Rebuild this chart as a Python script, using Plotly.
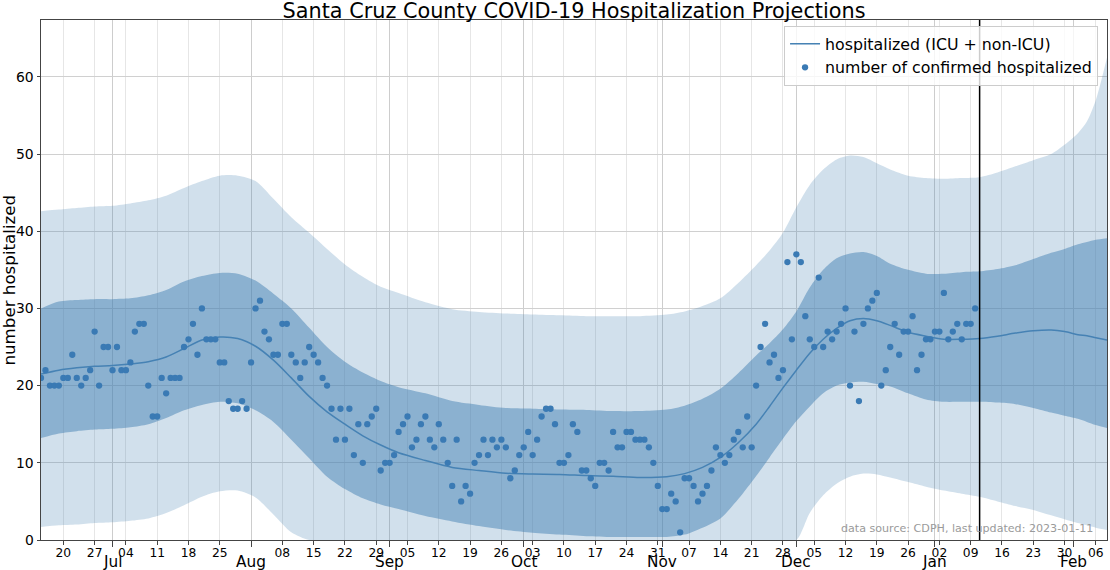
import pandas as pd
import plotly.graph_objects as go

# ---------------- data ----------------
obs_start = "2022-06-15"
confirmed = [
    21, 22, 20, 20, 20, 21, 21, 24, 21, 20,
    21, 22, 27, 20, 25, 25, 22, 25, 22, 22,
    23, 27, 28, 28, 20, 16, 16, 21, 19, 21,
    21, 21, 25, 26, 28, 24, 30, 26, 26, 26,
    23, 23, 18, 17, 17, 18, 17, 23, 30, 31,
    27, 26, 24, 24, 28, 28, 24, 23, 21, 23,
    25, 24, 23, 21, 20, 17, 13, 17, 13, 17,
    11, 15, 10, 15, 16, 17, 9, 10, 10, 11,
    14, 15, 16, 12, 13, 15, 16, 13, 12, 15,
    13, 10, 7, 13, 5, 7, 6, 10, 11, 13,
    11, 13, 12, 13, 12, 8, 9, 11, 12, 14,
    11, 13, 16, 17, 17, 15, 10, 10, 11, 15,
    14, 9, 9, 8, 7, 10, 10, 9, 14, 12,
    12, 14, 14, 13, 13, 13, 12, 10, 7, 4,
    4, 6, 5, 1, 8, 8, 7, 5, 6, 7,
    9, 12, 11, 10, 11, 13, 14, 12, 16, 12,
    20, 25, 28, 23, 24, 21, 22, 36, 26, 37,
    36, 29, 26, 25, 34, 25, 27, 26, 27, 28,
    30, 20, 27, 18, 28, 30, 31, 32, 20, 22,
    25, 28, 24, 27, 27, 29, 22, 24, 26, 26,
    27, 27, 32, 26, 27, 28, 26, 28, 28, 30,
]

proj_start = "2022-06-15"
proj_day = [0, 4, 8, 12, 16, 20, 24, 28, 32, 36,
            40, 44, 48, 52, 56, 60, 64, 68, 72, 76,
            80, 86, 92, 98, 104, 110, 116, 122, 128, 134,
            140, 144, 148, 152, 156, 160, 163, 166, 169, 172,
            175, 178, 181, 184, 187, 190, 194, 198, 202, 206,
            210, 214, 218, 222, 226, 229, 232, 234, 236, 238.5]

median = [21.5, 22.0, 22.3, 22.5, 22.6, 22.8, 23.1, 23.7, 24.8, 25.9,
          26.3, 26.1, 25.1, 23.3, 21.0, 18.6, 16.6, 15.0, 13.5, 12.3,
          11.3, 10.3, 9.4, 9.0, 8.65, 8.55, 8.5, 8.35, 8.25, 8.1,
          8.2, 8.6, 9.4, 10.7, 12.6, 15.0, 17.3, 19.7, 22.0, 24.2,
          26.0, 27.4, 28.4, 28.7, 28.4, 27.8, 26.9, 26.4, 26.0, 26.0,
          26.1, 26.4, 26.8, 27.1, 27.2, 27.0, 26.6, 26.45, 26.2, 25.9]

inner_upper = [30.0, 30.9, 31.1, 31.2, 31.2, 31.3, 31.7, 32.4, 33.5, 34.2,
               34.6, 34.5, 33.6, 31.9, 30.0, 27.5, 25.0, 23.1, 21.7, 20.6,
               19.8, 19.0, 18.0, 17.5, 17.1, 17.0, 16.9, 16.85, 16.7, 16.7,
               16.9, 17.4, 18.3, 19.6, 21.6, 23.9, 25.5, 27.3, 29.6, 32.7,
               35.0, 36.5, 37.1, 37.3, 36.8, 35.8, 35.0, 34.5, 34.5, 34.7,
               34.8, 35.1, 35.6, 36.4, 37.2, 37.7, 38.3, 38.6, 38.9, 39.1]

inner_lower = [13.2, 13.8, 14.1, 14.3, 14.4, 14.6, 15.0, 15.8, 16.8, 17.5,
               17.9, 17.7, 16.8, 15.3, 13.0, 10.6, 8.2, 6.6, 5.4, 4.6,
               4.0, 3.1, 2.4, 1.8, 1.3, 0.95, 0.7, 0.5, 0.4, 0.4,
               0.4, 0.7, 1.6, 2.8, 5.3, 8.3, 10.7, 13.1, 15.4, 17.3,
               19.0, 20.0, 20.4, 20.5, 20.2, 19.9, 19.0, 18.2, 17.9, 17.9,
               17.9, 17.8, 17.6, 17.1, 16.5, 16.1, 15.7, 15.3, 14.9, 14.5]

outer_upper = [42.6, 42.8, 43.0, 43.2, 43.3, 43.6, 44.0, 44.6, 45.6, 46.5,
               47.2, 47.2, 46.5, 44.2, 41.8, 39.8, 37.7, 35.7, 34.1, 32.8,
               32.0, 30.8, 29.9, 29.55, 29.35, 29.2, 29.1, 29.0, 29.0, 29.0,
               29.2, 29.6, 30.3, 31.3, 33.3, 35.6, 37.5, 39.8, 43.1, 46.0,
               48.0, 49.3, 49.8, 49.6, 48.8, 48.0, 47.2, 46.9, 46.8, 46.9,
               47.0, 47.6, 48.4, 49.2, 50.0, 51.2, 52.7, 54.2, 57.0, 62.5]

outer_lower = [1.7, 1.9, 2.0, 2.2, 2.3, 2.5, 2.8, 3.5, 4.5, 5.6,
               6.3, 6.4, 5.5, 3.3, 1.0, 0, 0, 0, 0, 0,
               0, 0, 0, 0, 0, 0, 0, 0, 0, 0,
               0, 0, 0, 0, 0, 0, 0, 0, 0, 3.5,
               5.8, 7.3, 8.2, 8.6, 8.5, 8.1, 7.5, 6.9, 6.4, 6.0,
               5.6, 5.0, 4.4, 3.9, 3.2, 2.7, 2.2, 1.9, 1.6, 1.3]

last_updated = "2023-01-11"
x_start, x_end = "2022-06-15", "2023-02-08 12:00"
month_starts = ["2022-07-01", "2022-08-01", "2022-09-01", "2022-10-01",
                "2022-11-01", "2022-12-01", "2023-01-01", "2023-02-01"]
month_labels = ["Jul", "Aug", "Sep", "Oct", "Nov", "Dec", "Jan", "Feb"]
week_first, week_last = "2022-06-20", "2023-02-06"

y_ticks = [0, 10, 20, 30, 40, 50, 60]
y_top = 67.36

# ---------------- derived ----------------
obs_dates = pd.date_range(obs_start, periods=len(confirmed), freq="D")
proj_dates = [pd.Timestamp(proj_start) + pd.Timedelta(days=d) for d in proj_day]
mondays = pd.date_range(week_first, week_last, freq="7D")
week_vals = [d.strftime("%Y-%m-%d") for d in mondays if d.day != 1]
week_text = [d[-2:] for d in week_vals]

BLUE = "rgb(70,130,180)"
DOT = "rgb(58,122,180)"
FONT = "DejaVu Sans"

fig = go.Figure()
spl = dict(shape="spline", smoothing=0.8, width=0)
fig.add_trace(go.Scatter(x=proj_dates, y=outer_lower, mode="lines", line=spl,
                         showlegend=False, hoverinfo="skip"))
fig.add_trace(go.Scatter(x=proj_dates, y=outer_upper, mode="lines", line=spl,
                         fill="tonexty", fillcolor="rgba(70,130,180,0.25)",
                         showlegend=False, hoverinfo="skip"))
fig.add_trace(go.Scatter(x=proj_dates, y=inner_lower, mode="lines", line=spl,
                         showlegend=False, hoverinfo="skip"))
fig.add_trace(go.Scatter(x=proj_dates, y=inner_upper, mode="lines", line=spl,
                         fill="tonexty", fillcolor="rgba(70,130,180,0.5)",
                         showlegend=False, hoverinfo="skip"))
fig.add_trace(go.Scatter(x=proj_dates, y=median, mode="lines",
                         line=dict(color=BLUE, width=1.5, shape="spline", smoothing=0.8),
                         name="hospitalized (ICU + non-ICU)"))
fig.add_trace(go.Scatter(x=obs_dates, y=confirmed, mode="markers",
                         marker=dict(color=DOT, size=6.3),
                         name="number of confirmed hospitalized"))

fig.add_shape(type="line", xref="x", yref="paper", x0=last_updated, x1=last_updated,
              y0=0, y1=1, line=dict(color="black", width=1.5))

annotations = [
    dict(text="number hospitalized", xref="paper", yref="paper",
         x=-32.4 / 1066, y=0.5, textangle=-90, showarrow=False,
         xanchor="center", yanchor="middle", font=dict(size=16.7, family=FONT)),
    dict(text=f"data source: CDPH, last updated: {last_updated}",
         xref="paper", yref="paper", x=0.9886, y=12 / 520,
         xanchor="right", yanchor="middle", showarrow=False,
         font=dict(size=11.1, family=FONT, color="#9a9a9a")),
]
for m, lab in zip(month_starts, month_labels):
    annotations.append(dict(text=lab, xref="x", yref="paper", x=m, y=-11.5 / 520,
                            xanchor="center", yanchor="top", showarrow=False,
                            borderpad=0, font=dict(size=15.3, family=FONT)))

fig.update_layout(
    width=1110, height=570,
    margin=dict(l=41, r=3, t=20, b=30, autoexpand=False),
    paper_bgcolor="white", plot_bgcolor="white",
    font=dict(family=FONT, color="black"),
    title=dict(text="Santa Cruz County COVID-19 Hospitalization Projections",
               x=0.5, xref="paper", xanchor="center",
               y=1 - 10.5 / 570, yref="container", yanchor="middle",
               font=dict(size=20.8, family=FONT, color="black")),
    showlegend=True,
    legend=dict(x=0.9916, xanchor="right", y=(540 - 26) / 520, yanchor="top",
                traceorder="normal",
                bgcolor="rgba(255,255,255,0.8)", bordercolor="#cccccc", borderwidth=1,
                font=dict(size=15.8, family=FONT), tracegroupgap=0),
    xaxis=dict(type="date", range=[x_start, x_end], autorange=False,
               tickmode="array", tickvals=week_vals, ticktext=week_text,
               tickfont=dict(size=12.3), ticks="outside", ticklen=3.5, tickcolor="#444",
               ticklabelstandoff=-2,
               showgrid=True, gridcolor="#e6e6e6", gridwidth=1,
               minor=dict(tickmode="array", tickvals=month_starts, showgrid=True,
                          gridcolor="#cdcdcd", gridwidth=1.2, ticks="outside",
                          ticklen=6, tickcolor="#444"),
               showline=True, linecolor="#444", linewidth=1, mirror=True,
               zeroline=False, automargin=False),
    yaxis=dict(range=[0, y_top], autorange=False, tickmode="array", tickvals=y_ticks,
               tickfont=dict(size=13.9), ticks="outside", ticklen=3.5, tickcolor="#444",
               showgrid=True, gridcolor="#d0d0d0", gridwidth=1.2,
               showline=True, linecolor="#444", linewidth=1, mirror=True,
               zeroline=False, automargin=False),
    annotations=annotations,
)

fig.write_html("out.html", config={"displayModeBar": False},
               post_script="document.body.style.margin='0px';")
